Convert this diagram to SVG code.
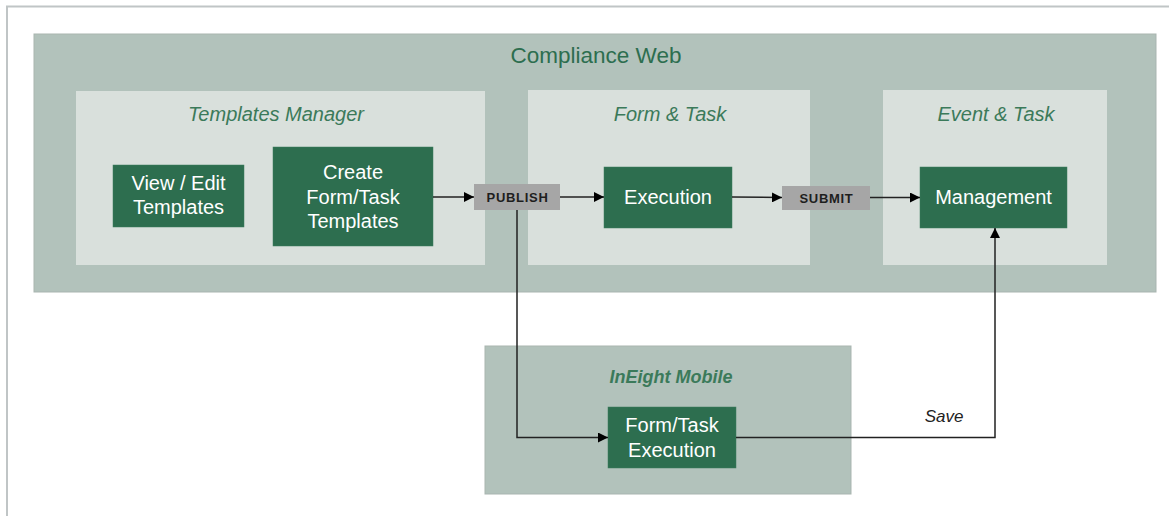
<svg xmlns="http://www.w3.org/2000/svg" width="1169" height="516" viewBox="0 0 1169 516">
<defs>
<marker id="arr" viewBox="0 0 10 10" refX="10" refY="5" markerWidth="10" markerHeight="10" markerUnits="userSpaceOnUse" orient="auto">
<path d="M0,0 L10,5 L0,10 z" fill="#000"/>
</marker>
<style>
.outer{fill:#b2c2bb;stroke:#a9b5b0;stroke-width:1}
.panel{fill:#d9e0dc}
.node{fill:#2d6e4f;stroke:#3f7d5e;stroke-width:0.5}
.tag{fill:#a6a6a6}
.ntext{font-family:"Liberation Sans",Arial,sans-serif;font-size:20px;fill:#ffffff;text-anchor:middle}
.title{font-family:"Liberation Sans",Arial,sans-serif;font-size:20px;font-style:italic;fill:#3b7a5a;text-anchor:middle}
.tagtext{font-family:"Liberation Sans",Arial,sans-serif;font-size:13px;font-weight:bold;letter-spacing:0.7px;fill:#1e1e1e;text-anchor:middle}
.conn{fill:none;stroke:#222;stroke-width:1.5}
</style>
</defs>
<rect x="0" y="0" width="1169" height="516" fill="#ffffff"/>
<path d="M7,516 V6.5 H1169" fill="none" stroke="#c0c5c6" stroke-width="2"/>

<g id="compliance-web">
<rect class="outer" x="34" y="34" width="1122" height="258"/>
<text x="596" y="63" font-family="Liberation Sans, Arial, sans-serif" font-size="22.5" fill="#2d6e4f" text-anchor="middle">Compliance Web</text>
</g>

<g id="templates-manager">
<rect class="panel" x="76" y="91" width="409" height="174"/>
<text class="title" x="276" y="121">Templates Manager</text>
</g>
<g id="form-task">
<rect class="panel" x="528" y="90" width="282" height="175"/>
<text class="title" x="670" y="121">Form &amp; Task</text>
</g>
<g id="event-task">
<rect class="panel" x="883" y="90" width="224" height="175"/>
<text class="title" x="996" y="121">Event &amp; Task</text>
</g>
<g id="ineight-mobile">
<rect class="outer" x="485" y="346" width="366" height="148"/>
<text x="671" y="383" font-family="Liberation Sans, Arial, sans-serif" font-size="18" font-style="italic" font-weight="bold" fill="#3b7a5a" text-anchor="middle">InEight Mobile</text>
</g>

<g id="view-edit-templates">
<rect class="node" x="113" y="165" width="131" height="62"/>
<text class="ntext" x="178.5" y="190">View / Edit</text>
<text class="ntext" x="178.5" y="214">Templates</text>
</g>
<g id="create-templates">
<rect class="node" x="273" y="147" width="160" height="99"/>
<text class="ntext" x="353" y="179">Create</text>
<text class="ntext" x="353" y="204">Form/Task</text>
<text class="ntext" x="353" y="228">Templates</text>
</g>
<g id="publish">
<rect class="tag" x="474" y="184" width="86" height="26"/>
<text class="tagtext" x="517.5" y="202">PUBLISH</text>
</g>
<g id="execution">
<rect class="node" x="604" y="167" width="128" height="61"/>
<text class="ntext" x="668" y="204">Execution</text>
</g>
<g id="submit">
<rect class="tag" x="782" y="186" width="88" height="24"/>
<text class="tagtext" x="826.5" y="203">SUBMIT</text>
</g>
<g id="management">
<rect class="node" x="920" y="167" width="147" height="61"/>
<text class="ntext" x="993.5" y="204">Management</text>
</g>
<g id="form-task-execution">
<rect class="node" x="608" y="407" width="128" height="61"/>
<text class="ntext" x="672" y="432">Form/Task</text>
<text class="ntext" x="672" y="457">Execution</text>
</g>

<g id="connectors">
<line class="conn" x1="433" y1="197" x2="474" y2="197" marker-end="url(#arr)"/>
<line class="conn" x1="560" y1="197" x2="604" y2="197" marker-end="url(#arr)"/>
<line class="conn" x1="732" y1="197" x2="782" y2="197.5" marker-end="url(#arr)"/>
<line class="conn" x1="870" y1="197.5" x2="920" y2="197.5" marker-end="url(#arr)"/>
<polyline class="conn" points="517,210 517,437.5 608,437.5" marker-end="url(#arr)"/>
<polyline class="conn" points="736,437.5 995,437.5 995,228" marker-end="url(#arr)"/>
<text x="944" y="422" font-family="Liberation Sans, Arial, sans-serif" font-size="17" font-style="italic" fill="#222" text-anchor="middle">Save</text>
</g>
</svg>
